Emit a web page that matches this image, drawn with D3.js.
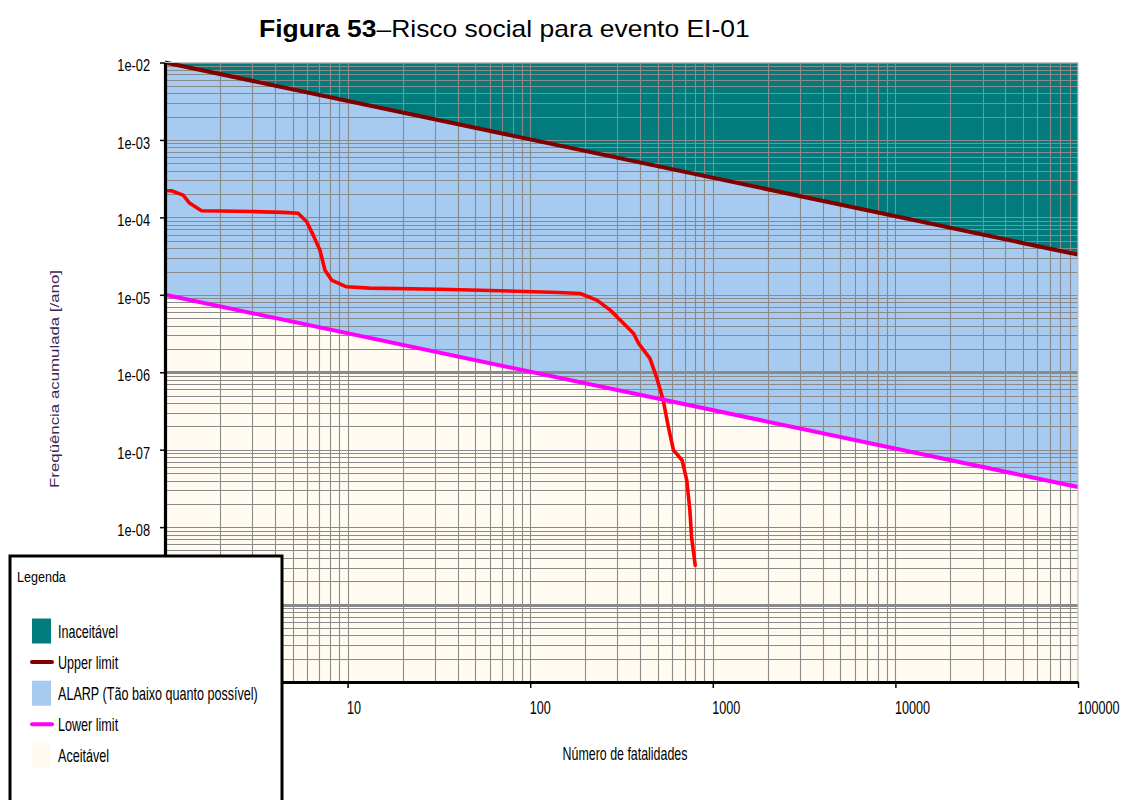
<!DOCTYPE html>
<html>
<head>
<meta charset="utf-8">
<script src="https://cdn.jsdelivr.net/npm/d3@7"></script>
<style>
  body { margin: 0; background: #ffffff; }
  svg { display: block; }
  text { font-family: "Liberation Sans", Arial, Helvetica, sans-serif; }
</style>
</head>
<body>
<svg id="chart" width="1124" height="800"></svg>
<script>
// ---- data ----
// labelled ticks (the lower-left corner of the axes sits under the legend box)
const xTicks = [10, 100, 1000, 10000, 100000];
const xTickLabels = ["10", "100", "1000", "10000", "100000"];
const yTicks = [1e-8, 1e-7, 1e-6, 1e-5, 1e-4, 1e-3, 1e-2];
const yTickLabels = ["1e-08", "1e-07", "1e-06", "1e-05", "1e-04", "1e-03", "1e-02"];

// F-N curve of event EI-01: number of fatalities vs cumulative frequency (/year)
const fnFatalities = [1, 1.085, 1.256, 1.367, 1.585, 2.0, 3.0, 4.44, 5.36, 5.97, 6.48, 7.05, 7.52, 8.17, 9.87,
  13.2, 32, 68.4, 144.6, 187.7, 231.6, 274.6, 324.9, 368.5, 392.5, 452.3, 491.3, 535, 571, 609, 679, 720, 749, 765, 801];
const fnFrequency = [2.21e-4, 2.21e-4, 1.94e-4, 1.52e-4, 1.22e-4, 1.21e-4, 1.19e-4, 1.16e-4, 1.13e-4, 8.77e-5, 5.9e-5,
  3.79e-5, 2.08e-5, 1.55e-5, 1.27e-5, 1.22e-5, 1.18e-5, 1.13e-5, 1.07e-5, 1.04e-5, 8.55e-6, 6.34e-6, 4.26e-6,
  3.17e-6, 2.35e-6, 1.51e-6, 8.73e-7, 4.36e-7, 1.97e-7, 9.87e-8, 7.31e-8, 4.04e-8, 1.65e-8, 7.46e-9, 3.22e-9];

// tolerability limits
const upperLimitN = [1, 100000];
const upperLimitF = [1e-2, 3.3e-5];
const lowerLimitN = [1, 100000];
const lowerLimitF = [1e-5, 3.3e-8];

const legendLabels = ["Inaceitável", "Upper limit", "ALARP (Tão baixo quanto possível)", "Lower limit", "Aceitável"];

// ---- styling ----
const C = {
  teal: "#017b7b",
  alarp: "#a6caf0",
  cream: "#fffbf0",
  grid: "#8a8a8a",
  upper: "#800000",
  lower: "#ff00ff",
  curve: "#ff0000",
  yTitle: "#3d2453"
};

const svg = d3.select("#chart");
const pL = 165, pR = 1078, pT = 62.5, pB = 682;

const x = d3.scaleLog().domain([1, 100000]).range([pL, pR]);
const y = d3.scaleLog().domain([1e-10, 1e-2]).range([pB, pT]);

const pts = (ns, fs) => ns.map((n, i) => ({ n, f: fs[i] }));
const upperPts = pts(upperLimitN, upperLimitF);
const lowerPts = pts(lowerLimitN, lowerLimitF);
const fnPts = pts(fnFatalities, fnFrequency);

svg.append("defs").append("clipPath").attr("id", "plotClip")
  .append("rect").attr("x", pL).attr("y", pT).attr("width", pR - pL).attr("height", pB - pT);

const plot = svg.append("g").attr("clip-path", "url(#plotClip)");

// risk regions
plot.append("rect").attr("x", pL).attr("y", pT).attr("width", pR - pL).attr("height", pB - pT)
  .attr("fill", C.teal);
const regionArea = d3.area().x(d => x(d.n)).y0(y(1e-10)).y1(d => y(d.f));
plot.append("path").datum(upperPts).attr("d", regionArea).attr("fill", C.alarp);
plot.append("path").datum(lowerPts).attr("d", regionArea).attr("fill", C.cream);

// log grid
const xGrid = [];
for (let k = 0; k <= 4; k++) for (let m = 1; m <= 9; m++) xGrid.push(m * Math.pow(10, k));
xGrid.push(100000);
const yGrid = [];
for (let k = -10; k <= -3; k++) for (let m = 1; m <= 9; m++) yGrid.push(m * Math.pow(10, k));
yGrid.push(1e-2);
const heavyRows = [1e-6, 1e-9];
const isHeavy = d => heavyRows.some(h => Math.abs(Math.log10(h) - Math.log10(d)) < 1e-9);

plot.append("g").selectAll("line").data(xGrid.filter(v => v > 1)).join("line")
  .attr("x1", d => Math.round(x(d)) + 0.5).attr("x2", d => Math.round(x(d)) + 0.5)
  .attr("y1", pT).attr("y2", pB)
  .attr("stroke", C.grid).attr("stroke-width", 1.1);
plot.append("g").selectAll("line").data(yGrid).join("line")
  .attr("x1", pL).attr("x2", pR)
  .attr("y1", d => Math.round(y(d)) + 0.5).attr("y2", d => Math.round(y(d)) + 0.5)
  .attr("stroke", C.grid)
  .attr("stroke-width", d => isHeavy(d) ? 3.2 : 1.1);

// limit lines and F-N curve
const line = d3.line().x(d => x(d.n)).y(d => y(d.f));
svg.append("path").datum(upperPts).attr("d", line).attr("fill", "none")
  .attr("stroke", C.upper).attr("stroke-width", 4);
svg.append("path").datum(lowerPts).attr("d", line).attr("fill", "none")
  .attr("stroke", C.lower).attr("stroke-width", 4);
plot.append("path").datum(fnPts).attr("d", line.curve(d3.curveLinear)).attr("fill", "none")
  .attr("stroke", C.curve).attr("stroke-width", 3.6)
  .attr("stroke-linejoin", "round").attr("stroke-linecap", "round");

// light frame on top/right
svg.append("path")
  .attr("d", `M${pL},${pT}H${pR}V${pB}`)
  .attr("fill", "none").attr("stroke", "#c4c4c4").attr("stroke-width", 1.2);

// axes
const ySx = 0.8;
const yAxis = svg.append("g").attr("transform", `translate(${pL},0)`)
  .call(d3.axisLeft(y).tickValues(yTicks).tickFormat((d, i) => yTickLabels[i]).tickSize(5).tickSizeOuter(0));
yAxis.select(".domain").attr("stroke", "#000").attr("stroke-width", 3.2);
yAxis.selectAll(".tick line").attr("stroke", "#000").attr("stroke-width", 1.5);
yAxis.selectAll(".tick text")
  .attr("transform", `scale(${ySx},1)`)
  .attr("x", -15 / ySx).attr("dy", null).attr("y", 8.3)
  .attr("font-size", 16).attr("fill", "#000")
  .style("font-family", '"Liberation Sans", Arial, sans-serif');

const xSx = 0.7;
const xAxis = svg.append("g").attr("transform", `translate(0,${pB})`)
  .call(d3.axisBottom(x).tickValues(xTicks).tickFormat((d, i) => xTickLabels[i]).tickSize(6).tickSizeOuter(0));
xAxis.select(".domain").attr("stroke", "#000").attr("stroke-width", 3.2);
xAxis.selectAll(".tick line").attr("stroke", "#000").attr("stroke-width", 1.5);
xAxis.selectAll(".tick text")
  .attr("text-anchor", "start")
  .attr("transform", `scale(${xSx},1)`)
  .attr("x", -1 / xSx).attr("dy", null).attr("y", 32)
  .attr("font-size", 18).attr("fill", "#000")
  .style("font-family", '"Liberation Sans", Arial, sans-serif');

// horizontally condensed text helper
function label(parent, str, px, py, size, sx, anchor) {
  return parent.append("text")
    .attr("transform", `translate(${px},${py}) scale(${sx},1)`)
    .attr("text-anchor", anchor || "start")
    .attr("font-size", size).attr("fill", "#000")
    .text(str);
}

// axis titles
label(svg, "Número de fatalidades", 625, 760, 17.5, 0.71, "middle");
svg.append("text")
  .attr("transform", "translate(59,379) rotate(-90) scale(1.295,1)")
  .attr("text-anchor", "middle").attr("font-size", 13).attr("fill", C.yTitle)
  .text("Freqüência acumulada [/ano]");

// title
const title = svg.append("text").attr("x", 0).attr("y", 0).attr("font-size", 23).attr("fill", "#000");
title.append("tspan").attr("font-weight", "bold").text("Figura 53");
title.append("tspan").text("–Risco social para evento EI-01");
const tw = title.node().getComputedTextLength();
title.attr("transform", `translate(259,37) scale(${491 / tw},1)`);

// legend
const lg = svg.append("g");
lg.append("rect").attr("x", 10).attr("y", 556).attr("width", 272).attr("height", 270)
  .attr("fill", "#ffffff").attr("stroke", "#000").attr("stroke-width", 3);
label(lg, "Legenda", 17, 581.5, 15.5, 0.81);

const legendKinds = [
  { type: "rect", color: C.teal },
  { type: "line", color: C.upper },
  { type: "rect", color: C.alarp },
  { type: "line", color: C.lower },
  { type: "rect", color: C.cream }
];
legendLabels.forEach((txt, i) => {
  const cy = 631 + i * 31.1;
  const k = legendKinds[i];
  if (k.type === "rect") {
    lg.append("rect").attr("x", 32).attr("y", cy - 12.5).attr("width", 19).attr("height", 25).attr("fill", k.color);
  } else {
    lg.append("line").attr("x1", 32).attr("x2", 52).attr("y1", cy).attr("y2", cy)
      .attr("stroke", k.color).attr("stroke-width", 4).attr("stroke-linecap", "round");
  }
  label(lg, txt, 58, cy + 6.5, 18, 0.7);
});
</script>
</body>
</html>
